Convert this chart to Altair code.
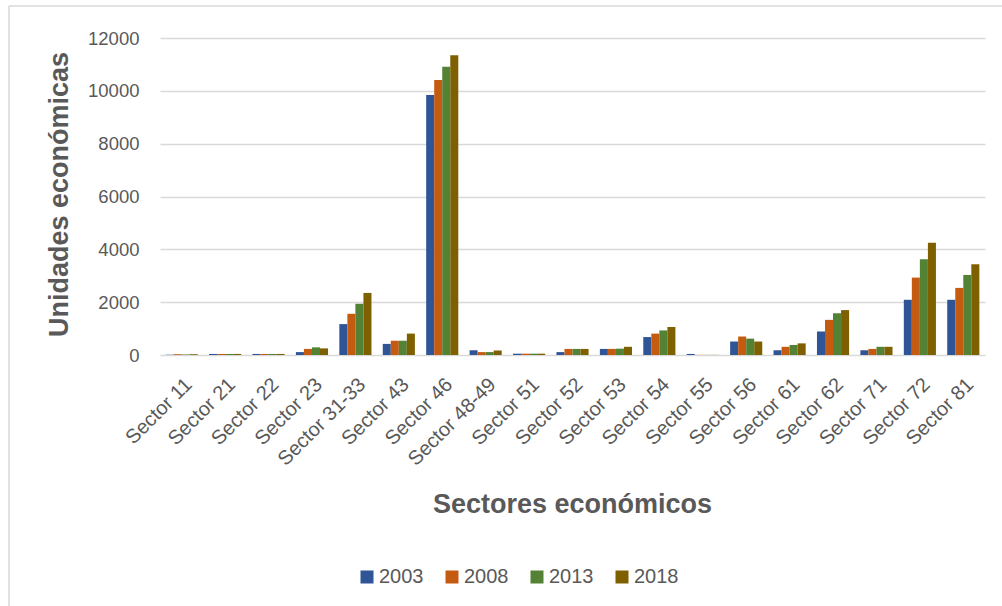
import altair as alt
import pandas as pd

sectors = ["Sector 11", "Sector 21", "Sector 22", "Sector 23", "Sector 31-33",
           "Sector 43", "Sector 46", "Sector 48-49", "Sector 51", "Sector 52",
           "Sector 53", "Sector 54", "Sector 55", "Sector 56", "Sector 61",
           "Sector 62", "Sector 71", "Sector 72", "Sector 81"]
years = ["2003", "2008", "2013", "2018"]

v2003 = [10, 40, 40, 110, 1170, 420, 9840, 180, 50, 110, 230, 680, 40, 510, 180, 890, 180, 2090, 2090]
v2008 = [30, 40, 40, 230, 1560, 540, 10410, 110, 50, 230, 230, 810, 5, 700, 310, 1330, 230, 2930, 2540]
v2013 = [20, 40, 40, 290, 1940, 540, 10910, 110, 50, 230, 240, 930, 5, 620, 380, 1580, 310, 3620, 3030]
v2018 = [30, 40, 40, 250, 2350, 810, 11350, 170, 50, 230, 310, 1060, 5, 510, 440, 1700, 310, 4250, 3440]

colors = ["#2F5597", "#C55A11", "#548235", "#7F6000"]
y_ticks = [0, 2000, 4000, 6000, 8000, 10000, 12000]

rows = []
for yr, vals in zip(years, [v2003, v2008, v2013, v2018]):
    for s, v in zip(sectors, vals):
        rows.append({"Sector": s, "Año": yr, "Unidades": v})
df = pd.DataFrame(rows)

GRAY = "#595959"
FONT = "Liberation Sans"

bars = alt.Chart(df).mark_bar().encode(
    x=alt.X("Sector:N", sort=sectors,
            scale=alt.Scale(paddingInner=0.26, paddingOuter=0.13),
            axis=alt.Axis(title="Sectores económicos", labelAngle=315,
                          labelAlign="right", labelBaseline="top",
                          labelFontSize=20, labelColor=GRAY, labelFont=FONT,
                          labelPadding=19, ticks=False, domain=False,
                          titleFontSize=27, titleFontWeight="bold",
                          titleColor=GRAY, titleFont=FONT,
                          titleX=412, titleY=157, titleBaseline="alphabetic",
                          titleAlign="center")),
    xOffset=alt.XOffset("Año:N", sort=years,
                        scale=alt.Scale(paddingInner=0, paddingOuter=0)),
    y=alt.Y("Unidades:Q", scale=alt.Scale(domain=[0, 12000]),
            axis=alt.Axis(values=y_ticks, format="d",
                          title="Unidades económicas",
                          labelFontSize=18.5, labelColor=GRAY, labelFont=FONT,
                          labelPadding=21, ticks=False, domain=False,
                          gridColor="#D9D9D9", gridWidth=1.3,
                          titleFontSize=27, titleFontWeight="bold",
                          titleColor=GRAY, titleFont=FONT,
                          titleAngle=270, titleX=-93, titleY=156,
                          titleBaseline="alphabetic", titleAlign="center")),
    color=alt.Color("Año:N", sort=years,
                    scale=alt.Scale(domain=years, range=colors),
                    legend=alt.Legend(title=None, orient="none",
                                      legendX=197, legendY=529,
                                      direction="horizontal", columns=4,
                                      symbolType="square", symbolSize=169,
                                      symbolStrokeWidth=0,
                                      labelFontSize=20, labelColor=GRAY,
                                      labelFont=FONT, labelOffset=2,
                                      columnPadding=18, padding=0)),
)

frame_df = pd.DataFrame({"k": [0]})
left_line = alt.Chart(frame_df).mark_rule(color="#D9D9D9", strokeWidth=1.5).encode(
    x=alt.value(-151), y=alt.value(-32), y2=alt.value(568))
top_line = alt.Chart(frame_df).mark_rule(color="#D9D9D9", strokeWidth=1.5).encode(
    x=alt.value(-151), x2=alt.value(842), y=alt.value(-32))

chart = alt.layer(bars, left_line, top_line).properties(
    width=825, height=317,
    autosize=alt.AutoSizeParams(type="none"),
    padding={"left": 160, "top": 38, "right": 17, "bottom": 251},
    background="white",
).configure_view(stroke=None)

chart.save("out.html", embed_options={"renderer": "svg", "actions": False})
